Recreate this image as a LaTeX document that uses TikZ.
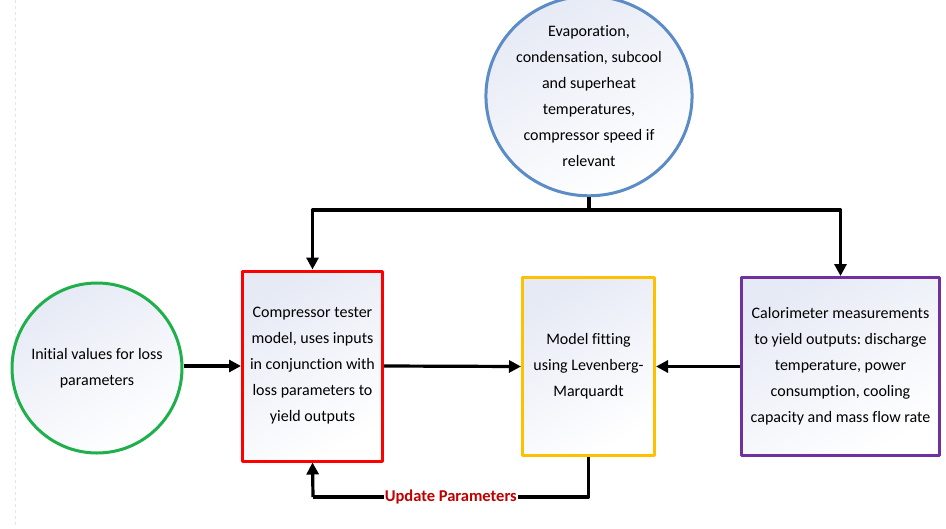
\documentclass[tikz,border=0pt]{standalone}
\usepackage{fontspec}
\setmainfont{Carlito}[Ligatures=NoCommon]
\usetikzlibrary{arrows.meta,positioning,shapes.geometric}
\frenchspacing

\definecolor{evapblue}{HTML}{5B8CC6}
\definecolor{initgreen}{HTML}{1FB04C}
\definecolor{testred}{HTML}{FF0000}
\definecolor{fitgold}{HTML}{FFC000}
\definecolor{calorpurple}{HTML}{7030A0}
\definecolor{updred}{HTML}{C00000}
\definecolor{paleblue}{HTML}{E6EAF5}

\tikzset{
  block/.style={draw, line width=3pt, align=center, inner sep=2pt,
    top color=paleblue, bottom color=white, shading angle=30},
  conn/.style={line width=3.2pt, black},
}

\begin{document}
\begin{tikzpicture}[x=1pt, y=-1pt, >={Triangle[length=12pt,width=12pt]}, line join=round,
    font=\fontsize{16}{26}\selectfont]
    \useasboundingbox (0,0) rectangle (946,528);
    \draw[gray!20, dashed, line width=0.6pt] (15,0) -- (15,528);
    % inputs and measurements
    \node[block, ellipse, draw=evapblue, minimum width=202pt, minimum height=188pt, inner sep=0pt] (temps) at (589,96)
      {Evaporation,\\condensation, subcool\\and superheat\\temperatures,\\compressor speed if\\relevant};
    \node[block, circle, draw=initgreen, minimum size=170pt] (init) at (97,368)
      {Initial values for loss\\parameters};
    \node[block, rectangle, draw=testred, minimum width=140pt, minimum height=190pt] (tester) at (312.5,366)
      {Compressor tester\\model, uses inputs\\in conjunction with\\loss parameters to\\yield outputs};
    \node[block, rectangle, draw=fitgold, minimum width=132pt, minimum height=178pt] (fit) at (588.5,366.5)
      {Model fitting\\using Levenberg-\\Marquardt};
    \node[block, rectangle, draw=calorpurple, minimum width=198pt, minimum height=178pt] (calor) at (840.5,366.5)
      {Calorimeter measurements\\to yield outputs: discharge\\temperature, power\\consumption, cooling\\capacity and mass flow rate};
    % connectors
    \coordinate (split) at (589,210);
    \coordinate (back) at (313,497);
    \draw[conn] (temps.south) -- (split);
    \draw[conn, ->] (split) -| (tester.north);
    \draw[conn, ->] (split) -| (calor.north);
    \draw[conn, ->] (init.east |- tester.west) -- (tester.west);
    \draw[conn, ->] (tester.east) -- (fit.west);
    \draw[conn, ->] (calor.west) -- (fit.east);
    \draw[conn] (fit.south) |- (back)
      node[pos=0.75, fill=white, inner sep=1pt, text=updred, font=\fontsize{16.5}{18}\selectfont\bfseries] (upd) {Update Parameters};
    \draw[conn, ->] (back) -- (tester.south);
\end{tikzpicture}
\end{document}
